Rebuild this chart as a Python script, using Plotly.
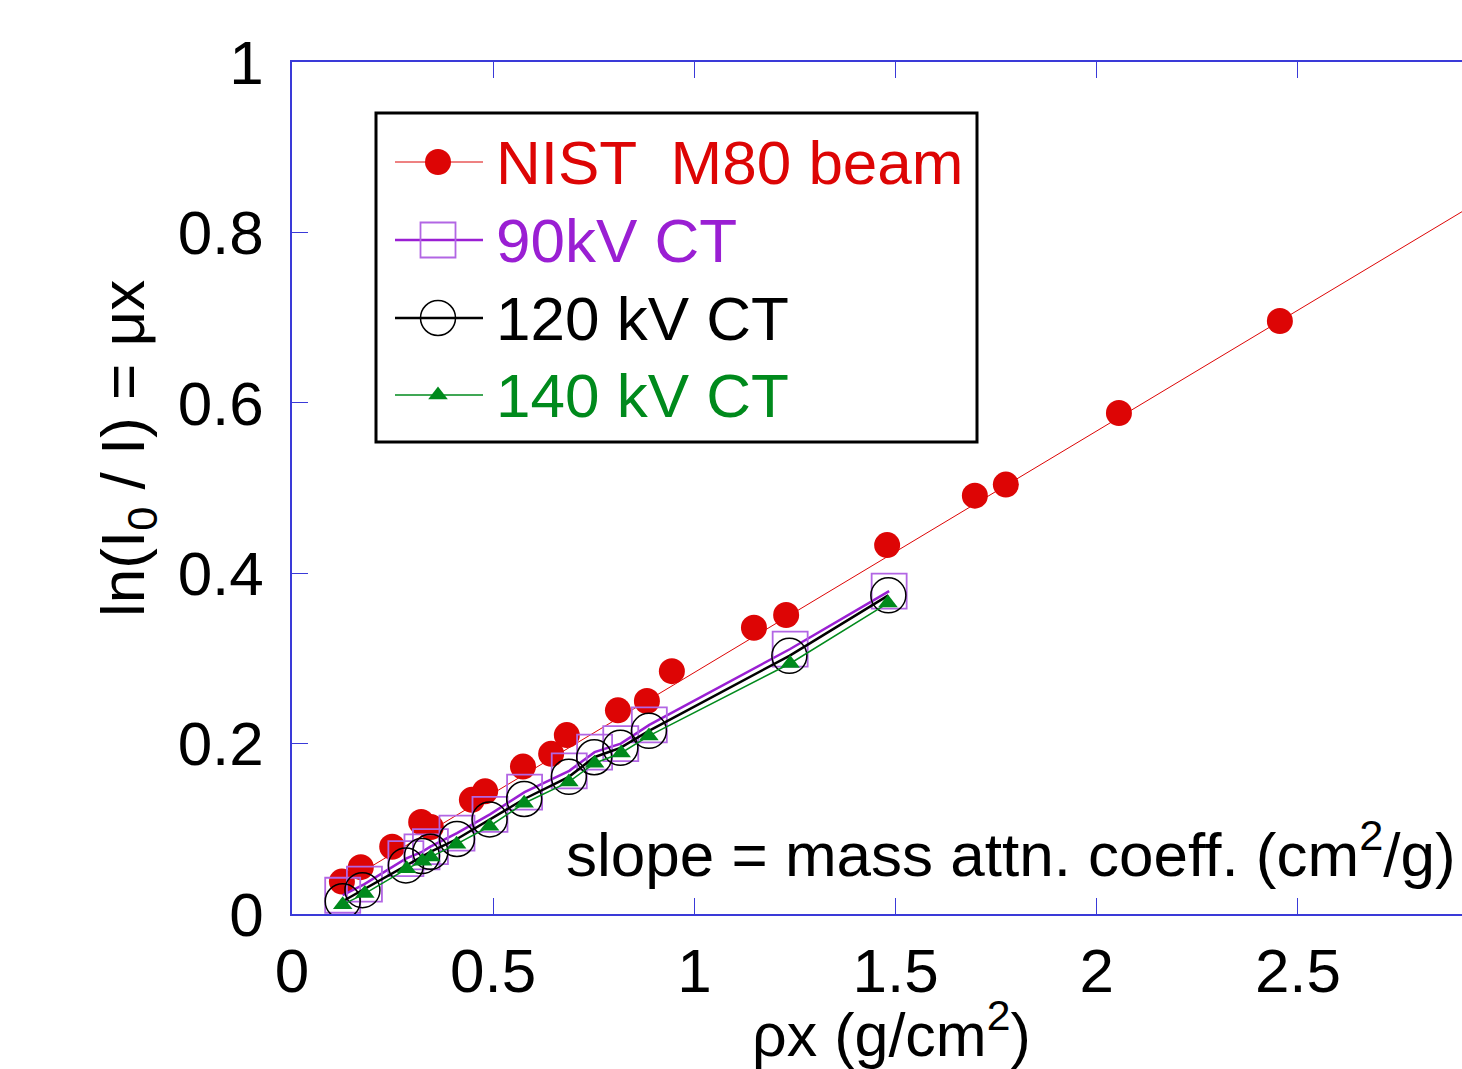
import plotly.graph_objects as go

# ---------------- data ----------------
nist_x = [0.124, 0.171, 0.249, 0.321, 0.345, 0.447, 0.480, 0.574, 0.644, 0.683,
          0.810, 0.882, 0.944, 1.148, 1.228, 1.479, 1.697, 1.774, 2.055, 2.455]
nist_y = [0.038, 0.055, 0.079, 0.108, 0.102, 0.134, 0.144, 0.173, 0.188, 0.210,
          0.239, 0.250, 0.285, 0.336, 0.351, 0.433, 0.491, 0.504, 0.588, 0.696]
nist_fit_slope = 0.2835          # fitted line through origin
nist_fit_xrange = [0.124, 3.0]

ct90_x = [0.126, 0.180, 0.283, 0.323, 0.344, 0.410, 0.492, 0.578, 0.689, 0.752,
          0.817, 0.888, 1.238, 1.484]
ct90_y = [0.022, 0.035, 0.065, 0.073, 0.079, 0.095, 0.117, 0.143, 0.168, 0.190,
          0.200, 0.222, 0.311, 0.379]

ct120_x = [0.126, 0.175, 0.283, 0.323, 0.344, 0.410, 0.491, 0.577, 0.688, 0.751,
           0.816, 0.887, 1.236, 1.482]
ct120_y = [0.015, 0.028, 0.057, 0.068, 0.073, 0.088, 0.111, 0.135, 0.161, 0.184,
           0.195, 0.215, 0.303, 0.374]

ct140_x = [0.126, 0.181, 0.285, 0.324, 0.345, 0.409, 0.491, 0.577, 0.688, 0.752,
           0.818, 0.887, 1.238, 1.481]
ct140_y = [0.011, 0.024, 0.053, 0.062, 0.067, 0.082, 0.103, 0.130, 0.155, 0.177,
           0.189, 0.209, 0.294, 0.365]

series_names = ["NIST  M80 beam", "90kV CT", "120 kV CT", "140 kV CT"]
x_ticks = [0, 0.5, 1, 1.5, 2, 2.5]
y_ticks = [0, 0.2, 0.4, 0.6, 0.8, 1]

# ---------------- style ----------------
RED = "#dd0505"
PURPLE = "#9a1fd3"
PURPLE_MK = "#b266e4"
BLACK = "#000000"
GREEN = "#008a1c"
AXIS_BLUE = "#3a3ad8"
FONT = "Liberation Sans, Arial, sans-serif"
FS = 62

W, H = 1462, 1069
ML, MR, MT, MB = 292, 0, 62, 155
PW, PH = W - ML - MR, H - MT - MB
X_MAX = 2.9076


def px_to_paper(px, py):
    return (px - ML) / PW, (H - MB - py) / PH


def px_to_data(px, py):
    return (px - ML) / PW * X_MAX, (H - MB - py) / PH


fig = go.Figure()

# NIST fit line
fit_x = nist_fit_xrange
fit_y = [nist_fit_slope * v for v in fit_x]
fig.add_trace(go.Scatter(x=fit_x, y=fit_y, mode="lines",
                         line=dict(color=RED, width=1), showlegend=False,
                         hoverinfo="skip"))
fig.add_trace(go.Scatter(x=nist_x, y=nist_y, mode="markers", name=series_names[0],
                         marker=dict(symbol="circle", size=26, color=RED),
                         showlegend=False))
fig.add_trace(go.Scatter(x=ct90_x, y=ct90_y, mode="lines+markers", name=series_names[1],
                         line=dict(color=PURPLE, width=2.5),
                         marker=dict(symbol="square-open", size=35, color=PURPLE_MK,
                                     line=dict(width=1.8, color=PURPLE_MK)),
                         showlegend=False))
fig.add_trace(go.Scatter(x=ct120_x, y=ct120_y, mode="lines+markers", name=series_names[2],
                         line=dict(color=BLACK, width=2.5),
                         marker=dict(symbol="circle-open", size=35, color=BLACK,
                                     line=dict(width=1.5, color=BLACK)),
                         showlegend=False))
fig.add_trace(go.Scatter(x=ct140_x, y=ct140_y, mode="lines+markers", name=series_names[3],
                         line=dict(color=GREEN, width=1.5),
                         marker=dict(symbol="triangle-up", size=17, color=GREEN),
                         showlegend=False))

# ---------------- legend (drawn by hand to match the boxed legend) ----------------
legend_rows_py = [162, 240, 318, 395]
legend_line_px = (395, 483)
legend_marker_px = 438
legend_text_px = 494
legend_styles = [
    dict(line=dict(color=RED, width=1), marker=dict(symbol="circle", size=26, color=RED)),
    dict(line=dict(color=PURPLE, width=2.5),
         marker=dict(symbol="square-open", size=35, color=PURPLE_MK, line=dict(width=1.8, color=PURPLE_MK))),
    dict(line=dict(color=BLACK, width=2.5),
         marker=dict(symbol="circle-open", size=35, color=BLACK, line=dict(width=1.5, color=BLACK))),
    dict(line=dict(color=GREEN, width=1.5), marker=dict(symbol="triangle-up", size=17, color=GREEN)),
]
legend_colors = [RED, PURPLE, BLACK, GREEN]

for name, py, st, col in zip(series_names, legend_rows_py, legend_styles, legend_colors):
    x0, yy = px_to_data(legend_line_px[0], py)
    x1, _ = px_to_data(legend_line_px[1], py)
    xm, _ = px_to_data(legend_marker_px, py)
    fig.add_trace(go.Scatter(x=[x0, x1], y=[yy, yy], mode="lines", line=st["line"],
                             showlegend=False, hoverinfo="skip"))
    fig.add_trace(go.Scatter(x=[xm], y=[yy], mode="markers", marker=st["marker"],
                             showlegend=False, hoverinfo="skip"))
    tx, ty = px_to_paper(legend_text_px, py)
    fig.add_annotation(x=tx, y=ty, xref="paper", yref="paper", text=name,
                       showarrow=False, xanchor="left", yanchor="middle",
                       font=dict(family=FONT, size=FS, color=col))

bx0, by0 = px_to_paper(376, 113)
bx1, by1 = px_to_paper(977, 442)
fig.add_shape(type="rect", xref="paper", yref="paper", x0=bx0, x1=bx1, y0=by1, y1=by0,
              line=dict(color="black", width=3), fillcolor="rgba(0,0,0,0)", layer="below")

# ---------------- text annotations ----------------
sx, sy = px_to_paper(1011, 850)
fig.add_annotation(x=sx, y=sy, xref="paper", yref="paper",
                   text="slope = mass attn. coeff. (cm<sup>2</sup>/g)",
                   showarrow=False, xanchor="center", yanchor="middle",
                   font=dict(family=FONT, size=FS, color="black"))

xt, yt = px_to_paper(891, 1030)
fig.add_annotation(x=xt, y=yt, xref="paper", yref="paper",
                   text="ρx (g/cm<sup>2</sup>)",
                   showarrow=False, xanchor="center", yanchor="middle",
                   font=dict(family=FONT, size=61, color="black"))

ytx, yty = px_to_paper(127, 449)
fig.add_annotation(x=ytx, y=yty, xref="paper", yref="paper",
                   text="ln(I<sub>0</sub> / I) = μx", textangle=-90,
                   showarrow=False, xanchor="center", yanchor="middle",
                   font=dict(family=FONT, size=FS, color="black"))

# ---------------- axes / layout ----------------
fig.update_xaxes(range=[0, X_MAX], tickmode="array", tickvals=x_ticks,
                 ticktext=[f"{v:g}" for v in x_ticks],
                 showgrid=False, zeroline=False, showline=True, linecolor=AXIS_BLUE,
                 linewidth=1.5, mirror="ticks", ticks="inside", ticklen=16, tickwidth=1,
                 tickcolor=AXIS_BLUE, ticklabelstandoff=2,
                 tickfont=dict(family=FONT, size=FS, color="black"))
fig.update_yaxes(range=[0, 1], tickmode="array", tickvals=y_ticks,
                 ticktext=[f"{v:g}" for v in y_ticks],
                 showgrid=False, zeroline=False, showline=True, linecolor=AXIS_BLUE,
                 linewidth=1.5, ticks="inside", ticklen=16, tickwidth=1,
                 tickcolor=AXIS_BLUE, ticklabelstandoff=14,
                 tickfont=dict(family=FONT, size=FS, color="black"))

fig.update_layout(width=W, height=H, margin=dict(l=ML, r=MR, t=MT, b=MB, pad=0),
                  paper_bgcolor="white", plot_bgcolor="white", showlegend=False,
                  font=dict(family=FONT, size=FS, color="black"))

fig.write_html("out.html", config={"displayModeBar": False},
               post_script="document.body.style.margin='0';document.body.style.overflow='hidden';")
